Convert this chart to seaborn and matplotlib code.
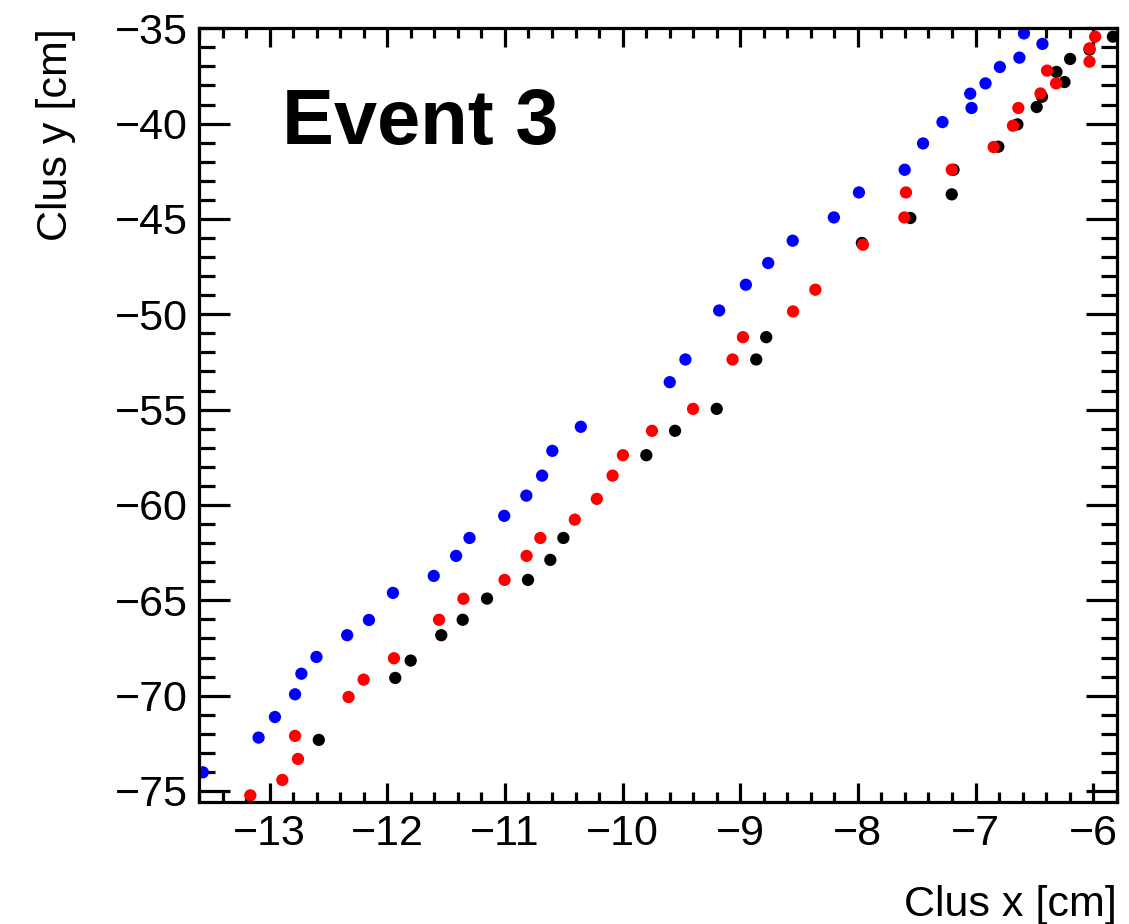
import seaborn as sns
import matplotlib.pyplot as plt
import pandas as pd
from matplotlib.ticker import MultipleLocator

# cluster positions, three sets of points
black_x = [-12.582, -11.932, -11.801, -11.541, -11.359, -11.152, -10.804, -10.614, -10.503,
           -9.798, -9.554, -9.200, -8.864, -8.779, -7.966, -7.554, -7.202, -7.187, -6.806,
           -6.644, -6.480, -6.435, -6.312, -6.244, -6.196, -6.031, -5.832]
black_y = [-72.32, -69.07, -68.16, -66.83, -66.02, -64.91, -63.93, -62.88, -61.73,
           -57.39, -56.11, -54.96, -52.37, -51.20, -46.26, -44.95, -43.71, -42.42, -41.21,
           -40.04, -39.13, -38.59, -37.29, -37.82, -36.61, -36.12, -35.44]

red_x = [-13.164, -12.892, -12.784, -12.759, -12.329, -12.201, -11.943, -11.560, -11.353,
         -11.003, -10.816, -10.699, -10.406, -10.219, -10.085, -9.997, -9.750, -9.401,
         -9.065, -8.977, -8.551, -8.361, -7.957, -7.605, -7.591, -7.202, -6.846, -6.682,
         -6.636, -6.448, -6.392, -6.315, -6.031, -6.031, -5.983]
red_y = [-75.23, -74.42, -72.11, -73.32, -70.07, -69.16, -68.04, -66.02, -64.92,
         -63.93, -62.67, -61.73, -60.77, -59.68, -58.46, -57.39, -56.11, -54.96,
         -52.37, -51.20, -49.85, -48.71, -46.35, -44.92, -43.61, -42.42, -41.23, -40.11,
         -39.18, -38.42, -37.22, -37.89, -36.75, -36.05, -35.44]

blue_x = [-13.568, -13.094, -12.955, -12.784, -12.730, -12.602, -12.341, -12.156, -11.952,
          -11.605, -11.415, -11.301, -11.006, -10.818, -10.684, -10.597, -10.355, -9.599,
          -9.466, -9.179, -8.952, -8.762, -8.554, -8.204, -7.991, -7.602, -7.446, -7.281,
          -7.045, -7.034, -6.915, -6.793, -6.627, -6.588, -6.431]
blue_y = [-74.02, -72.20, -71.12, -69.93, -68.85, -67.97, -66.83, -66.03, -64.61,
          -63.72, -62.67, -61.73, -60.57, -59.51, -58.46, -57.16, -55.90, -53.56,
          -52.37, -49.80, -48.45, -47.31, -46.14, -44.92, -43.61, -42.42, -41.04, -39.92,
          -38.43, -39.18, -37.89, -37.03, -36.54, -35.27, -35.82]

# black first, then red, then blue on top
df = pd.concat([
    pd.DataFrame({'x': black_x, 'y': black_y, 'set': 'black'}),
    pd.DataFrame({'x': red_x, 'y': red_y, 'set': 'red'}),
    pd.DataFrame({'x': blue_x, 'y': blue_y, 'set': 'blue'}),
], ignore_index=True)

sns.set_style('ticks', {'axes.edgecolor': 'black', 'text.color': 'black',
                        'xtick.color': 'black', 'ytick.color': 'black',
                        'axes.labelcolor': 'black'})
plt.rcParams['font.family'] = ['Liberation Sans', 'DejaVu Sans']

fig = plt.figure(figsize=(11.29, 9.24), dpi=100)
ax = fig.add_axes([0.1763, 0.1324, 0.8128, 0.8370])

sns.scatterplot(data=df, x='x', y='y', hue='set',
                palette={'black': '#000000', 'red': '#ff0000', 'blue': '#0000ff'},
                s=78, linewidth=0, legend=False, ax=ax)

ax.set_xlim(-13.6, -5.8)
ax.set_ylim(-75.56, -35)

ax.xaxis.set_major_locator(MultipleLocator(1))
ax.xaxis.set_minor_locator(MultipleLocator(0.2))
ax.yaxis.set_major_locator(MultipleLocator(5))
ax.yaxis.set_minor_locator(MultipleLocator(1))

for s in ax.spines.values():
    s.set_linewidth(2.3)
    s.set_color('black')
    s.set_visible(True)

ax.tick_params(axis='x', which='major', direction='in', length=14, width=2.3,
               top=True, labelsize=31, pad=9, colors='black')
ax.tick_params(axis='x', which='minor', direction='in', length=7, width=2.3, top=True,
               colors='black')
ax.tick_params(axis='y', which='major', direction='in', length=22, width=2.3,
               right=True, labelsize=31, pad=8, colors='black')
ax.tick_params(axis='y', which='minor', direction='in', length=11.5, width=2.3, right=True,
               colors='black')

ax.set_xlabel('Clus x [cm]', fontsize=31, loc='right', color='black')
ax.xaxis.set_label_coords(1.0, -0.108)
ax.set_ylabel('Clus y [cm]', fontsize=31, loc='top', color='black')
ax.yaxis.set_label_coords(-0.134, 1.0)

ax.text(0.09, 0.85, 'Event 3', transform=ax.transAxes, fontsize=56,
        fontweight='bold', ha='left', va='baseline', color='black')

plt.savefig('out.png', dpi=100)
